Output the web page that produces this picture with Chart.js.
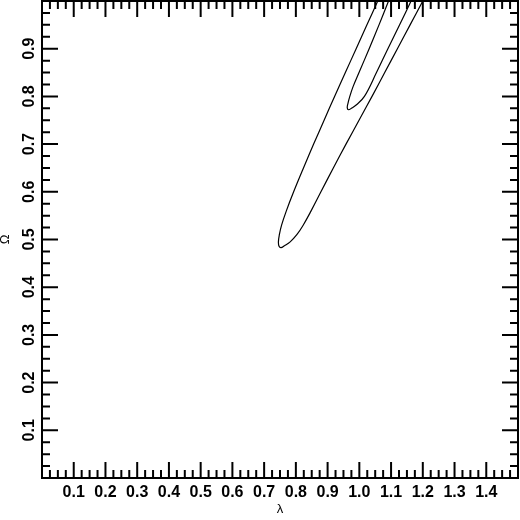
<!DOCTYPE html>
<html>
<head>
<meta charset="utf-8">
<script src="https://cdn.jsdelivr.net/npm/chart.js@4"></script>
<style>
  html, body { margin: 0; padding: 0; background: #fff; }
  #wrap { width: 520px; height: 520px; }
</style>
</head>
<body>
<div id="wrap"><canvas id="contourChart"></canvas></div>
<script>
// contour lines (lambda, Omega), left branch down, right branch up
const outerLambda = [1.078, 1.058, 1.024, 0.990, 0.956, 0.922, 0.889, 0.856, 0.824, 0.793, 0.770, 0.755, 0.748, 0.745, 0.747, 0.753, 0.764, 0.782, 0.803, 0.823, 0.848, 0.879, 0.918, 0.958, 0.999, 1.040, 1.080, 1.120, 1.160, 1.200, 1.224];
const outerOmega  = [1.030, 1.000, 0.950, 0.900, 0.850, 0.800, 0.750, 0.700, 0.650, 0.600, 0.560, 0.530, 0.510, 0.495, 0.486, 0.483, 0.487, 0.495, 0.510, 0.530, 0.560, 0.600, 0.650, 0.700, 0.750, 0.800, 0.850, 0.900, 0.950, 1.000, 1.030];

const innerLambda = [1.110, 1.092, 1.062, 1.031, 0.999, 0.980, 0.970, 0.964, 0.962, 0.966, 0.975, 0.990, 1.016, 1.054, 1.090, 1.127, 1.163, 1.185];
const innerOmega  = [1.030, 1.000, 0.950, 0.900, 0.850, 0.820, 0.800, 0.785, 0.776, 0.772, 0.775, 0.782, 0.800, 0.850, 0.900, 0.950, 1.000, 1.030];

const lambdaTicks = [0.1, 0.2, 0.3, 0.4, 0.5, 0.6, 0.7, 0.8, 0.9, 1.0, 1.1, 1.2, 1.3, 1.4];
const omegaTicks  = [0.1, 0.2, 0.3, 0.4, 0.5, 0.6, 0.7, 0.8, 0.9];

function toPoints(xs, ys) {
  return xs.map((v, i) => ({ x: v, y: ys[i] }));
}

// frame on all four sides with inward major/minor ticks
const frameTicks = {
  id: 'frameTicks',
  afterDraw(chart) {
    const { ctx, chartArea: a, scales: { x, y } } = chart;
    ctx.save();
    ctx.strokeStyle = '#000';
    ctx.lineWidth = 2;
    ctx.strokeRect(a.left, a.top, a.right - a.left, a.bottom - a.top);
    ctx.beginPath();
    for (let i = 1; i * 0.025 < x.max - 1e-6; i++) {
      const px = x.getPixelForValue(i * 0.025);
      const len = i % 4 === 0 ? 16 : 8;
      ctx.moveTo(px, a.bottom); ctx.lineTo(px, a.bottom - len);
      ctx.moveTo(px, a.top); ctx.lineTo(px, a.top + len);
    }
    for (let i = 1; i * 0.025 < y.max - 1e-6; i++) {
      const py = y.getPixelForValue(i * 0.025);
      const len = i % 4 === 0 ? 16 : 8;
      ctx.moveTo(a.left, py); ctx.lineTo(a.left + len, py);
      ctx.moveTo(a.right, py); ctx.lineTo(a.right - len, py);
    }
    ctx.stroke();
    ctx.restore();
  }
};

const tickFont = { family: '"Liberation Sans", Arial, sans-serif', weight: 'bold', size: 16 };
const titleFont = { family: '"Liberation Sans", Arial, sans-serif', size: 13, lineHeight: 1 };

new Chart(document.getElementById('contourChart'), {
  type: 'scatter',
  data: {
    datasets: [
      {
        label: 'outer',
        data: toPoints(outerLambda, outerOmega),
        showLine: true,
        borderColor: '#000',
        borderWidth: 1.2,
        pointRadius: 0,
        tension: 0.4,
        clip: 0
      },
      {
        label: 'inner',
        data: toPoints(innerLambda, innerOmega),
        showLine: true,
        borderColor: '#000',
        borderWidth: 1.2,
        pointRadius: 0,
        tension: 0.4,
        clip: 0
      }
    ]
  },
  options: {
    responsive: true,
    maintainAspectRatio: false,
    animation: false,
    layout: { padding: { left: 0, right: 2, top: 1, bottom: 0 } },
    plugins: {
      legend: { display: false },
      tooltip: { enabled: false }
    },
    scales: {
      x: {
        type: 'linear',
        min: 0,
        max: 1.5,
        afterBuildTicks: s => { s.ticks = lambdaTicks.map(v => ({ value: v })); },
        afterFit: s => { s.height = 42; s.paddingLeft = 0; s.paddingRight = 0; },
        grid: { display: false, drawTicks: false },
        border: { display: false },
        ticks: {
          autoSkip: false,
          maxRotation: 0,
          padding: 5,
          color: '#000',
          font: tickFont,
          callback: v => v.toFixed(1)
        },
        title: { display: true, text: 'λ', color: '#000', font: titleFont, padding: { top: 0, bottom: 4 } }
      },
      y: {
        type: 'linear',
        min: 0,
        max: 1.0,
        afterBuildTicks: s => { s.ticks = omegaTicks.map(v => ({ value: v })); },
        afterFit: s => { s.width = 42; s.paddingTop = 0; s.paddingBottom = 0; },
        grid: { display: false, drawTicks: false },
        border: { display: false },
        ticks: {
          autoSkip: false,
          minRotation: 90,
          maxRotation: 90,
          crossAlign: 'center',
          padding: 1,
          color: '#000',
          font: tickFont,
          callback: v => v.toFixed(1)
        },
        title: { display: true, text: 'Ω', color: '#000', font: titleFont, padding: { top: -1, bottom: 0 } }
      }
    }
  },
  plugins: [frameTicks]
});
</script>
</body>
</html>
